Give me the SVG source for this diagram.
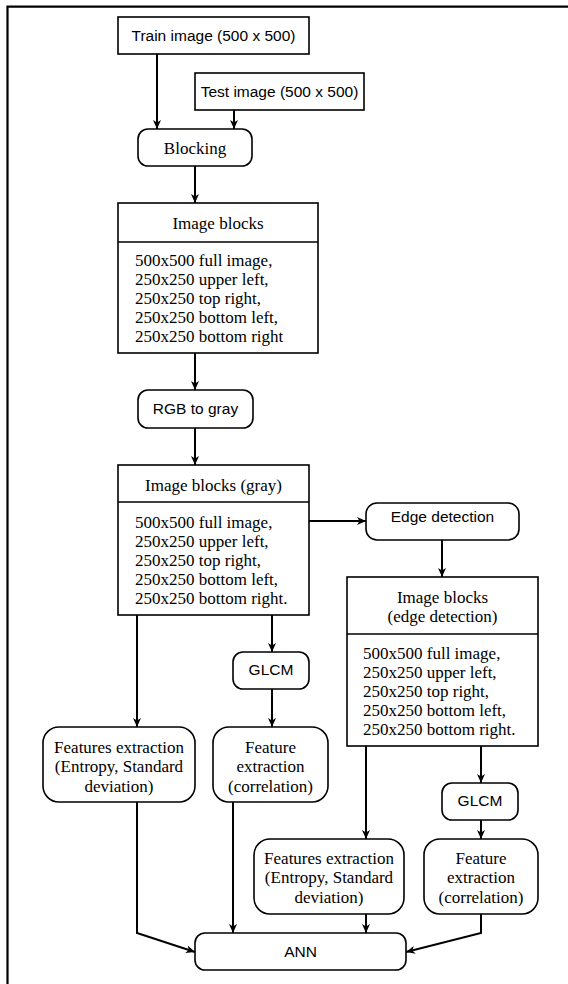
<svg xmlns="http://www.w3.org/2000/svg" width="568" height="984" viewBox="0 0 568 984">
<defs>
<style>
.b{fill:#fff;stroke:#000;stroke-width:1.6}
.s{font-family:"Liberation Sans",Arial,sans-serif;font-size:15.5px;fill:#000;text-anchor:middle}
.t{font-family:"Liberation Serif","Times New Roman",serif;font-size:17px;fill:#000}
.m{text-anchor:middle}
.c{fill:none;stroke:#000;stroke-width:2}
</style>
<marker id="a" markerWidth="10" markerHeight="10" refX="9" refY="4.5" orient="auto" markerUnits="userSpaceOnUse">
<path d="M0,0.5 L9,4.5 L0,8.5 L2.5,4.5 z" fill="#000"/>
</marker>
</defs>
<rect width="568" height="984" fill="#fff"/>
<g id="frame"><path d="M7.5,984 V6.7 H568" fill="none" stroke="#000" stroke-width="2.2"/></g>
<g id="connectors">
<path class="c" marker-end="url(#a)" d="M157,54 V129"/>
<path class="c" marker-end="url(#a)" d="M234,110 V129"/>
<path class="c" marker-end="url(#a)" d="M195,166 V203"/>
<path class="c" marker-end="url(#a)" d="M195,353 V390"/>
<path class="c" marker-end="url(#a)" d="M195,428 V465"/>
<path class="c" marker-end="url(#a)" d="M309,521 H366"/>
<path class="c" marker-end="url(#a)" d="M442,540 V577"/>
<path class="c" marker-end="url(#a)" d="M137,615 V727"/>
<path class="c" marker-end="url(#a)" d="M272,615 V652"/>
<path class="c" marker-end="url(#a)" d="M272,689 V727"/>
<path class="c" marker-end="url(#a)" d="M366,746 V839"/>
<path class="c" marker-end="url(#a)" d="M481,746 V783"/>
<path class="c" marker-end="url(#a)" d="M481,820 V839"/>
<path class="c" marker-end="url(#a)" d="M137,802 V933 L195,952"/>
<path class="c" marker-end="url(#a)" d="M233,802 V933"/>
<path class="c" marker-end="url(#a)" d="M366,914 V933"/>
<path class="c" marker-end="url(#a)" d="M481,914 V933 L406,952"/>
</g>
<g id="train"><rect class="b" x="118" y="17" width="191" height="37"/><text class="s" x="213.5" y="41">Train image (500 x 500)</text></g>
<g id="test"><rect class="b" x="195" y="73" width="169" height="37"/><text class="s" x="279.5" y="97">Test image (500 x 500)</text></g>
<g id="blocking"><rect class="b" x="138" y="129" width="114" height="37" rx="10"/><text class="t m" x="195" y="154">Blocking</text></g>
<g id="imageblocks"><rect class="b" x="118" y="203" width="200" height="150"/><line x1="118" y1="242" x2="318" y2="242" stroke="#000" stroke-width="1.6"/>
<text class="t m" x="218" y="229">Image blocks</text>
<text class="t" x="135" y="266">500x500 full image,</text>
<text class="t" x="135" y="285">250x250 upper left,</text>
<text class="t" x="135" y="304">250x250 top right,</text>
<text class="t" x="135" y="323">250x250 bottom left,</text>
<text class="t" x="135" y="342">250x250 bottom right</text></g>
<g id="rgb"><rect class="b" x="138" y="390" width="115" height="38" rx="10"/><text class="s" x="195.5" y="414">RGB to gray</text></g>
<g id="gray"><rect class="b" x="118" y="465" width="191" height="150"/><line x1="118" y1="502" x2="309" y2="502" stroke="#000" stroke-width="1.6"/>
<text class="t m" x="213.5" y="491">Image blocks (gray)</text>
<text class="t" x="135" y="528">500x500 full image,</text>
<text class="t" x="135" y="547">250x250 upper left,</text>
<text class="t" x="135" y="566">250x250 top right,</text>
<text class="t" x="135" y="585">250x250 bottom left,</text>
<text class="t" x="135" y="604">250x250 bottom right.</text></g>
<g id="edge"><rect class="b" x="366" y="503" width="153" height="37" rx="11"/><text class="s" x="442.5" y="522">Edge detection</text></g>
<g id="edgeblocks"><rect class="b" x="347" y="577" width="191" height="169"/><line x1="347" y1="634" x2="538" y2="634" stroke="#000" stroke-width="1.6"/>
<text class="t m" x="442.5" y="603">Image blocks</text>
<text class="t m" x="442.5" y="622">(edge detection)</text>
<text class="t" x="363" y="659">500x500 full image,</text>
<text class="t" x="363" y="678">250x250 upper left,</text>
<text class="t" x="363" y="697">250x250 top right,</text>
<text class="t" x="363" y="716">250x250 bottom left,</text>
<text class="t" x="363" y="735">250x250 bottom right.</text></g>
<g id="glcm1"><rect class="b" x="233" y="652" width="76" height="37" rx="10"/><text class="s" x="271" y="675">GLCM</text></g>
<g id="fe1"><rect class="b" x="43" y="727" width="152" height="75" rx="16"/>
<text class="t m" x="119" y="753">Features extraction</text>
<text class="t m" x="119" y="772">(Entropy, Standard</text>
<text class="t m" x="119" y="792">deviation)</text></g>
<g id="fe2"><rect class="b" x="213" y="727" width="115" height="75" rx="16"/>
<text class="t m" x="270.5" y="753">Feature</text>
<text class="t m" x="270.5" y="772">extraction</text>
<text class="t m" x="270.5" y="792">(correlation)</text></g>
<g id="glcm2"><rect class="b" x="442" y="783" width="76" height="37" rx="10"/><text class="s" x="480" y="806">GLCM</text></g>
<g id="fe3"><rect class="b" x="254" y="839" width="150" height="75" rx="16"/>
<text class="t m" x="329" y="864">Features extraction</text>
<text class="t m" x="329" y="883">(Entropy, Standard</text>
<text class="t m" x="329" y="903">deviation)</text></g>
<g id="fe4"><rect class="b" x="424" y="839" width="114" height="75" rx="16"/>
<text class="t m" x="481" y="864">Feature</text>
<text class="t m" x="481" y="883">extraction</text>
<text class="t m" x="481" y="903">(correlation)</text></g>
<g id="ann"><rect class="b" x="195" y="933" width="211" height="37" rx="10"/><text class="s" x="300.5" y="957">ANN</text></g>
</svg>
